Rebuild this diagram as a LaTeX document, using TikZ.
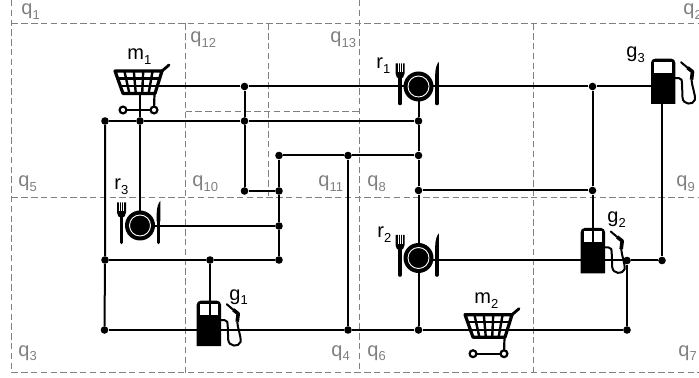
\documentclass[tikz,border=0pt]{standalone}
\usepackage{fontspec}
\setmainfont{Liberation Sans}
\usetikzlibrary{calc}
\definecolor{zonegray}{gray}{0.5}
\newcommand{\lab}[2]{#1\raisebox{-0.45ex}{\fontsize{6.5}{7}\selectfont #2}}
\tikzset{
  zone/.style={draw=zonegray,line width=0.6pt,dash pattern=on 3.2pt off 1.7pt},
  road/.style={draw=black,line width=1pt},
  jn/.style={circle,fill=black,inner sep=0pt,minimum size=3.8pt},
  zonelab/.style={anchor=base west,inner sep=0pt,text=zonegray,font=\fontsize{10}{12}\selectfont},
  poilab/.style={anchor=base west,inner sep=0pt,text=black,font=\fontsize{10}{12}\selectfont},
  cart/.pic={
    \fill[white] (0,0)--(47,0)--(40,22.5)--(8,22.5)--cycle;
    \foreach \i in {1,2,3,4} \draw[line width=1.2pt] ({\i*47/5},0)--({8+\i*32/5},22.5);
    \draw[line width=1.2pt] (2.7,7.5)--(44.6,7.5);
    \draw[line width=1.2pt] (5.3,15)--(42.3,15);
    \draw[line width=1.6pt,line join=round] (0,0)--(47,0)--(40,22.5)--(8,22.5)--cycle;
    \draw[line width=1.4pt,line cap=round] (47,0)--(54,-6);
    \draw[line width=1.1pt] (39.5,22.5)--(39,39);
    \draw[line width=1.1pt] (8,39)--(39,39);
    \draw[line width=1.1pt,fill=white] (8,39) circle(3.4);
    \draw[line width=1.1pt,fill=white] (39,39) circle(3.4);
  },
  plate/.pic={
    \fill (0,0) circle(15);
    \draw[white,line width=0.45pt] (0,0) circle(10.5);
    \draw[line width=1.8pt,line cap=round] (-18.5,-8)--(-18.5,17);
    \fill (-23,-23)--(-14,-23)--(-14,-13) arc(0:180:4.5 and 5.5)--cycle;
    \foreach \t in {-20.5,-18.5,-16.5} \draw[white,line width=0.3pt] (\t,-23.5)--(\t,-14);
    \draw[line width=1.8pt,line cap=round] (18.5,-4)--(18.5,17);
    \fill (16.7,-4)--(16.7,-12) .. controls (16.7,-18) and (18.5,-23) .. (20.3,-24.5)--(20.3,-4)--cycle;
  },
  pump/.pic={
    \fill (0,45.3)--(0,4) arc(180:270:4)--(20.3,0) arc(270:360:4)--(24.3,45.3)--cycle;
    \fill[white] (3.3,3.2)--(21,3.2)--(21,14)--(3.3,14)--cycle;
    \draw[line width=1pt,line join=round] (24,19.5)--(28,19.5) .. controls (31,19.5) and (31,22) .. (31,25)--(31.5,39) .. controls (32,46) and (42,47) .. (44,41) .. controls (44.5,36) and (41,28) .. (40.5,21);
    \draw[line width=1.8pt,line join=round] (40.5,21)--(41.5,13)--(36.5,9);
    \draw[line width=1pt,line cap=round] (36.5,9)--(30,3.5);
  }
}

\begin{document}
\begin{tikzpicture}[x=0.5pt,y=-0.5pt]
\useasboundingbox (0,0) rectangle (699,378);
% zones
\draw[zone] (11.5,0)--(11.5,372.5)--(699,372.5);
\draw[zone] (11.5,23.5)--(699,23.5);
\draw[zone] (11.5,197.5)--(699,197.5);
\draw[zone] (185.5,111.5)--(359.5,111.5);
\draw[zone] (185.5,23.5)--(185.5,372.5);
\draw[zone] (268.5,23.5)--(268.5,197.5);
\draw[zone] (359.5,0)--(359.5,372.5);
\draw[zone] (533.5,23.5)--(533.5,372.5);
\foreach \name/\x/\y/\q/\s in {q1/21/15/q/1,q2/683/15/q/2,q3/18/356/q/3,q4/331/356/q/4,q5/18/187/q/5,q6/367/356/q/6,q7/678/356/q/7,q8/367/187/q/8,q9/676/187/q/9,q10/192/187/q/10,q11/318/187/q/11,q12/190/43/q/12,q13/330/43/q/13}
  \node[zonelab] (\name) at (\x,\y) {\lab{\q}{\s}};
% pumps go under the roads
\pic at (651,58.7) {pump};
\pic at (196.7,300.7) {pump};
\pic at (580.7,228) {pump};
% junctions
\foreach \name/\x/\y in {a1/105/121,a2/140/121,a3/244.5/121,a4/418.5/121,b1/244.5/86.5,b2/592.5/86.5,c1/279/155.5,c2/348/155.5,c3/418.5/155.5,d1/244.5/191,d2/279/191,d3/418.5/190.5,d4/592.5/190.5,e1/279/226,f1/105/260,f2/210/260,f3/279/260,h1/627/260.5,h2/662/260.5,k1/104.5/330,k2/348/330,k3/418.5/330,k4/627/330}
  \node[jn] (\name) at (\x,\y) {};
\coordinate (m1e) at (155,86.5);
\coordinate (m1s) at (140,93);
\coordinate (r1) at (418.5,86.5);
\coordinate (r2) at (418.5,260.5);
\coordinate (r3) at (140,225.5);
\coordinate (r3e) at (150,226);
\coordinate (g1t) at (210,315);
\coordinate (g2t) at (592.5,242);
\coordinate (g3w) at (655,86.5);
\coordinate (g3s) at (662,100);
% roads
\draw[road] (m1e)--(b1)--(r1)--(b2)--(g3w);
\draw[road] (a1)--(a2)--(a3)--(a4);
\draw[road] (a1)--(f1)--(k1);
\draw[road] (m1s)--(a2)--(r3);
\draw[road] (b1)--(a3)--(d1)--(d2);
\draw[road] (c1)--(c2)--(c3);
\draw[road] (c1)--(d2)--(e1)--(f3);
\draw[road] (r3e)--(e1);
\draw[road] (f1)--(f2)--(f3);
\draw[road] (f2)--(g1t);
\draw[road] (k1)--(k2)--(k3)--(k4);
\draw[road] (c2)--(k2);
\draw[road] (r1)--(a4)--(c3)--(d3)--(r2)--(k3);
\draw[road] (d3)--(d4);
\draw[road] (b2)--(d4)--(g2t);
\draw[road] (r2)--(h1)--(h2);
\draw[road] (h1)--(k4);
\draw[road] (g3s)--(h2);
% carts and plates
\pic at (115,71) {cart};
\pic at (465,314.7) {cart};
\pic at (r1) {plate};
\pic at (418.5,258) {plate};
\pic at (r3) {plate};
% labels
\foreach \name/\x/\y/\t/\s in {m1l/127/60/m/1,m2l/474/304/m/2,r1l/376/69/r/1,r2l/377/238/r/2,r3l/114/190/r/3,g1l/229/300/g/1,g2l/607/223/g/2,g3l/626/58/g/3}
  \node[poilab] (\name) at (\x,\y) {\lab{\t}{\s}};
\end{tikzpicture}
\end{document}
